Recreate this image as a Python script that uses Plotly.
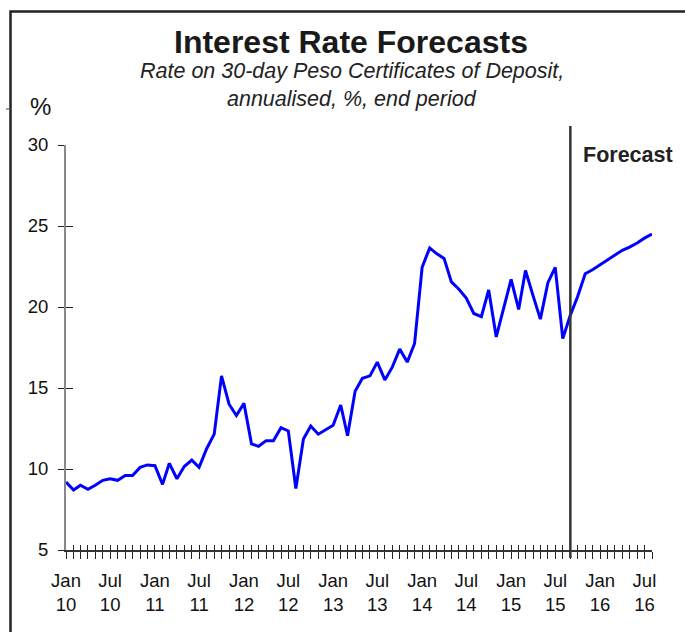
import plotly.graph_objects as go
import pandas as pd

# Monthly rate on 30-day peso CDs, Jan 2010 - Aug 2016 (forecast from Sep 2015)
start_month = "2010-01-01"
rates = [
    9.2, 8.7, 9.0, 8.75, 9.0, 9.3, 9.4, 9.3, 9.6, 9.6, 10.1, 10.25,          # 2010
    10.2, 9.05, 10.35, 9.4, 10.15, 10.55, 10.1, 11.25, 12.15, 15.75, 14.0, 13.3,  # 2011
    14.05, 11.55, 11.4, 11.75, 11.75, 12.55, 12.35, 8.8, 11.85, 12.65, 12.15, 12.4,  # 2012
    12.7, 13.95, 12.05, 14.8, 15.6, 15.75, 16.6, 15.5, 16.3, 17.4, 16.6, 17.75,  # 2013
    22.45, 23.65, 23.3, 23.0, 21.55, 21.1, 20.55, 19.6, 19.4, 21.05, 18.15, 19.9,  # 2014
    21.7, 19.85, 22.25, 20.7, 19.25, 21.5, 22.45, 18.05, 19.5, 20.65, 22.05, 22.3,  # 2015
    22.6, 22.9, 23.15, 23.5, 23.7, 23.95, 24.25, 24.5,                          # 2016
]
forecast_start = "2015-09-01"
y_ticks = [5, 10, 15, 20, 25, 30]

months = pd.date_range(start_month, periods=len(rates), freq="MS")
tick_text = [
    f"{d.strftime('%b')}<br>{d.strftime('%y')}" if d.month in (1, 7) else ""
    for d in months
]

W, H = 685, 632
ML, MR, MT, MB = 66, 33, 145, 82
PW, PH = W - ML - MR, H - MT - MB


def px_x(x):
    return (x - ML) / PW


def px_y(y):
    return (H - MB - y) / PH


FONT = "Liberation Sans, Arial, Helvetica, sans-serif"
x_range = [months[0], months[-1]]
y_range = [5, 30]

fig = go.Figure()
fig.add_trace(go.Scatter(
    x=months, y=rates, mode="lines",
    line=dict(color="#0000ff", width=3),
    showlegend=False, hoverinfo="x+y",
))
# empty trace carrying the overlay axes used for the inward tick halves
fig.add_trace(go.Scatter(x=[], y=[], xaxis="x2", yaxis="y2", showlegend=False))

tick_font = dict(family=FONT, size=18.5, color="#111")
fig.update_layout(
    width=W, height=H,
    margin=dict(l=ML, r=MR, t=MT, b=MB, pad=0),
    paper_bgcolor="white", plot_bgcolor="white",
    font=dict(family=FONT, color="#111"),
    xaxis=dict(
        type="date", range=x_range, tickvals=list(months), ticktext=tick_text,
        ticks="outside", ticklen=7, tickwidth=1.3, tickcolor="#222",
        showline=True, linecolor="#333", linewidth=2,
        showgrid=False, zeroline=False, tickfont=tick_font,
        tickangle=0, ticklabelstandoff=6,
    ),
    yaxis=dict(
        range=y_range, tickvals=y_ticks, ticks="outside", ticklen=6,
        tickwidth=1.3, tickcolor="#222",
        showline=True, linecolor="#888", linewidth=2,
        showgrid=False, zeroline=False, tickfont=tick_font,
        ticklabelstandoff=6,
    ),
    xaxis2=dict(
        type="date", range=x_range, tickvals=list(months), overlaying="x",
        anchor="y", ticks="inside", ticklen=5, tickwidth=1.3, tickcolor="#222",
        showticklabels=False, showgrid=False, zeroline=False, showline=False,
    ),
    yaxis2=dict(
        range=y_range, tickvals=y_ticks, overlaying="y", anchor="x", side="left",
        ticks="inside", ticklen=7, tickwidth=1.3, tickcolor="#222",
        showticklabels=False, showgrid=False, zeroline=False, showline=False,
    ),
)

# forecast divider
fig.add_shape(
    type="line", xref="x", yref="paper",
    x0=forecast_start, x1=forecast_start, y0=px_y(558), y1=px_y(126),
    line=dict(color="#333", width=2.5),
)
# outer frame (top and left edges)
fig.add_shape(
    type="path", xref="paper", yref="paper",
    path=f"M {px_x(10.5)} {px_y(700)} L {px_x(10.5)} {px_y(11.5)} L {px_x(720)} {px_y(11.5)}",
    line=dict(color="#222", width=2.5),
)
fig.add_shape(
    type="line", xref="paper", yref="paper",
    x0=px_x(6), x1=px_x(10.5), y0=px_y(109), y1=px_y(109),
    line=dict(color="#444", width=1),
)

annotations = [
    dict(text="<b>Interest Rate Forecasts</b>", x=px_x(351), y=px_y(42),
         font=dict(family=FONT, size=32, color="#1a1a1a")),
    dict(text="<i>Rate on 30-day Peso Certificates of Deposit,</i>", x=px_x(352), y=px_y(71),
         font=dict(family=FONT, size=21.5, color="#222")),
    dict(text="<i>annualised, %, end period</i>", x=px_x(352), y=px_y(99),
         font=dict(family=FONT, size=21.5, color="#222")),
    dict(text="%", x=px_x(40), y=px_y(107),
         font=dict(family=FONT, size=24, color="#111")),
    dict(text="<b>Forecast</b>", x=px_x(628), y=px_y(155),
         font=dict(family=FONT, size=21.5, color="#222")),
]
for a in annotations:
    fig.add_annotation(xref="paper", yref="paper", showarrow=False,
                       xanchor="center", yanchor="middle", **a)

fig.write_html("out.html")
